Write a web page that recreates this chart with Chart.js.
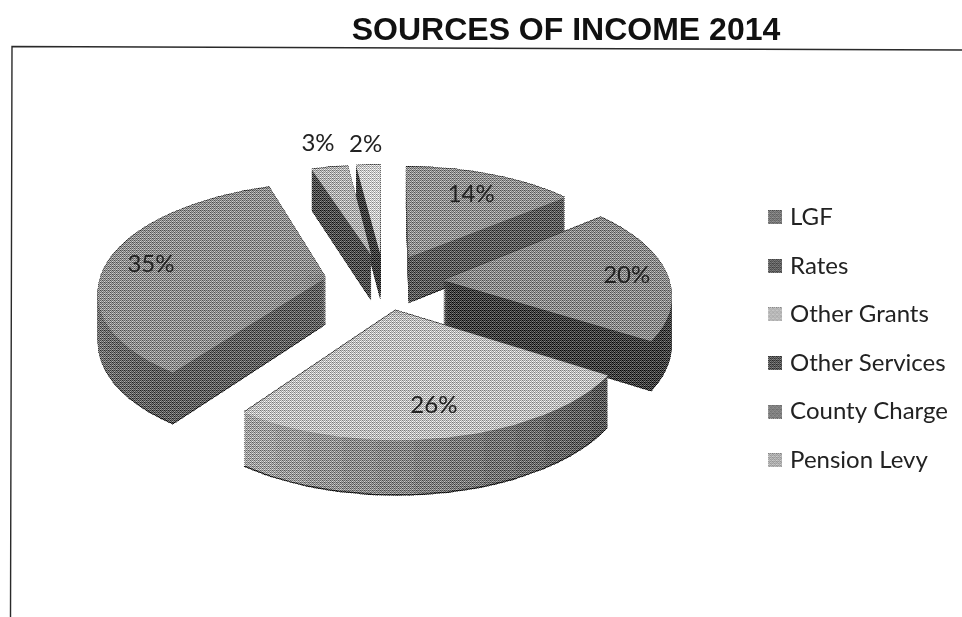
<!DOCTYPE html>
<html>
<head>
<meta charset="utf-8">
<style>html,body{margin:0;padding:0;background:#fff}canvas{display:block}</style>
<script src="https://cdn.jsdelivr.net/npm/chart.js@4"></script>
</head>
<body>
<canvas id="c" width="962" height="617"></canvas>
<script>
// Income sources, percent of total for 2014
const categories = ['LGF', 'Rates', 'Other Grants', 'Other Services', 'County Charge', 'Pension Levy'];
const shares = [14, 20, 26, 35, 3, 2];

// Greys: top faces, legend swatches, and the side wall from the start to the end of each slice
const topGrey = [0x90, 0x8a, 0xbc, 0x8e, 0xae, 0xc8];
const swatchGrey = [0x78, 0x62, 0xb8, 0x58, 0x80, 0xae];
const wallFrom = [0x5c, 0x5c, 0x58, 0x60, 0x50, 0x40];
const wallTo = [0x5c, 0x42, 0xa0, 0xa0, 0x50, 0x40];

// Distance of each percentage label from its slice's apex, in pie radii
const labelRadius = [0.74, 0.82, 0.77, 0.8, 1.32, 1.27];

// Camera for the tilted, exploded pie
const camera = { cx: 384, cy: 282, rx: 227, ry: 107, persp: 0.12, explode: 0.26, depth: 46 };
const sectorStep = 0.14;

const grey = g => `rgb(${g},${g},${g})`;
const lerp = (a, b, t) => Math.round(a + (b - a) * t);
const bayer = [0, 8, 2, 10, 12, 4, 14, 6, 3, 11, 1, 9, 15, 7, 13, 5];
const screenAt = (x, y) => (bayer[(y % 4) * 4 + (x % 4)] - 7.5) / 7.5;

function project(u, v, h) {
  const w = 1 + camera.persp * v;
  return { x: camera.cx + camera.rx * u / w, y: camera.cy + (h - camera.ry * v) / w };
}

function slicePoint(el, angle, r, h) {
  const mid = (el.startAngle + el.endAngle) / 2;
  const e = camera.explode;
  return project(e * Math.cos(mid) + r * Math.cos(angle), -e * Math.sin(mid) - r * Math.sin(angle), h);
}

// Draws one library arc through an affine map, one narrow sector at a time,
// which gives the perspective that a single canvas transform cannot.
function paintArc(ctx, el, color, h) {
  const shim = Object.create(el);
  shim.options = Object.assign({}, el.options, { backgroundColor: color(0), borderWidth: 0 });
  const span = el.endAngle - el.startAngle;
  const n = Math.max(1, Math.ceil(span / sectorStep));
  const R = el.outerRadius;
  const mid = (el.startAngle + el.endAngle) / 2;
  for (let j = 0; j < n; j++) {
    const a0 = el.startAngle + span * j / n;
    const a1 = el.startAngle + span * (j + 1) / n;
    const s1 = { x: R * Math.cos(a0), y: R * Math.sin(a0) };
    const s2 = { x: R * Math.cos(a1), y: R * Math.sin(a1) };
    const o = slicePoint(el, mid, 0, h);
    const p1 = slicePoint(el, a0, 1, h);
    const p2 = slicePoint(el, a1, 1, h);
    const d1 = { x: p1.x - o.x, y: p1.y - o.y };
    const d2 = { x: p2.x - o.x, y: p2.y - o.y };
    const det = s1.x * s2.y - s2.x * s1.y;
    const m00 = (d1.x * s2.y - d2.x * s1.y) / det;
    const m01 = (d2.x * s1.x - d1.x * s2.x) / det;
    const m10 = (d1.y * s2.y - d2.y * s1.y) / det;
    const m11 = (d2.y * s1.x - d1.y * s2.x) / det;
    ctx.save();
    ctx.transform(m00, m10, m01, m11,
      o.x - m00 * el.x - m01 * el.y,
      o.y - m10 * el.x - m11 * el.y);
    ctx.beginPath();
    ctx.moveTo(el.x, el.y);
    ctx.lineTo(el.x + 1.15 * R * Math.cos(a0 - 0.012), el.y + 1.15 * R * Math.sin(a0 - 0.012));
    ctx.lineTo(el.x + 1.15 * R * Math.cos(a1 + 0.012), el.y + 1.15 * R * Math.sin(a1 + 0.012));
    ctx.closePath();
    ctx.clip();
    shim.options.backgroundColor = color(n > 1 ? j / (n - 1) : 0);
    shim.draw(ctx);
    ctx.restore();
  }
}

// Ordered screen over the pie, the halftone of the printed page
function halftone(ctx, x0, y0, w, h) {
  const img = ctx.getImageData(x0, y0, w, h);
  const px = img.data;
  for (let y = 0; y < h; y++) {
    for (let x = 0; x < w; x++) {
      const i = (y * w + x) * 4;
      if (px[i] > 240) continue;
      const g = Math.max(0, Math.min(255, px[i] + screenAt(x, y) * 70));
      px[i] = px[i + 1] = px[i + 2] = g;
    }
  }
  ctx.putImageData(img, x0, y0);
}

// Legend swatch: screened square, set off-centre in its image so it sits close to the text
function swatch(g) {
  const size = 14, shift = 8;
  const cv = document.createElement('canvas');
  cv.width = size + shift;
  cv.height = size;
  const cx = cv.getContext('2d');
  for (let y = 0; y < size; y++) {
    for (let x = 0; x < size; x++) {
      cx.fillStyle = grey(Math.round(Math.max(0, Math.min(255, g + screenAt(x, y) * 60))));
      cx.fillRect(x + shift, y, 1, 1);
    }
  }
  return cv;
}

const pie3d = {
  id: 'pie3d',
  beforeDraw(chart) {
    const ctx = chart.ctx;
    ctx.save();
    ctx.fillStyle = '#fff';
    ctx.fillRect(0, 0, chart.width, chart.height);
    ctx.strokeStyle = '#2a2a2a';
    ctx.lineWidth = 1.4;
    ctx.beginPath();
    ctx.moveTo(10.5, 617);
    ctx.lineTo(12, 46.5);
    ctx.lineTo(962, 50);
    ctx.stroke();
    ctx.restore();
  },
  beforeDatasetsDraw(chart) {
    const ctx = chart.ctx;
    const arcs = chart.getDatasetMeta(0).data;
    const midOf = el => (el.startAngle + el.endAngle) / 2;
    const order = arcs.map((el, i) => i).sort((a, b) => Math.sin(midOf(arcs[a])) - Math.sin(midOf(arcs[b])));
    order.forEach(i => {
      const el = arcs[i];
      // dark rim under the wall and along the far edge of the top face
      paintArc(ctx, el, () => '#262626', camera.depth + 1.2);
      for (let h = camera.depth; h > 0; h--) {
        paintArc(ctx, el, t => grey(lerp(wallFrom[i], wallTo[i], t)), h);
      }
      paintArc(ctx, el, () => '#4a4a4a', -0.9);
      paintArc(ctx, el, () => grey(topGrey[i]), 0);
    });
    halftone(ctx, 80, 150, 610, 350);

    ctx.save();
    ctx.fillStyle = '#222';
    ctx.font = '24px Lato';
    ctx.textAlign = 'center';
    ctx.textBaseline = 'middle';
    arcs.forEach((el, i) => {
      const p = slicePoint(el, midOf(el), labelRadius[i], 0);
      ctx.fillText(shares[i] + '%', p.x, p.y);
    });
    ctx.restore();
    return false;
  }
};

new Chart(document.getElementById('c'), {
  type: 'pie',
  data: {
    labels: categories,
    datasets: [{ data: shares, backgroundColor: topGrey.map(grey), borderWidth: 0 }]
  },
  plugins: [pie3d],
  options: {
    responsive: false,
    animation: false,
    layout: { padding: { left: 174, right: 4, top: 0, bottom: 0 } },
    plugins: {
      tooltip: { enabled: false },
      title: {
        display: true,
        text: 'SOURCES OF INCOME 2014',
        color: '#111',
        font: { family: 'Liberation Sans', size: 32, weight: 'bold' },
        padding: { top: 12, bottom: 10 }
      },
      legend: {
        position: 'right',
        fullSize: false,
        labels: {
          color: '#222',
          font: { family: 'Lato', size: 24 },
          boxWidth: 14,
          boxHeight: 14,
          padding: 24.6,
          usePointStyle: true,
          generateLabels: () => categories.map((text, i) => ({
            text,
            pointStyle: swatch(swatchGrey[i]),
            fillStyle: grey(swatchGrey[i]),
            strokeStyle: grey(swatchGrey[i]),
            lineWidth: 0,
            fontColor: '#222',
            index: i
          }))
        }
      }
    }
  }
});
</script>
</body>
</html>
